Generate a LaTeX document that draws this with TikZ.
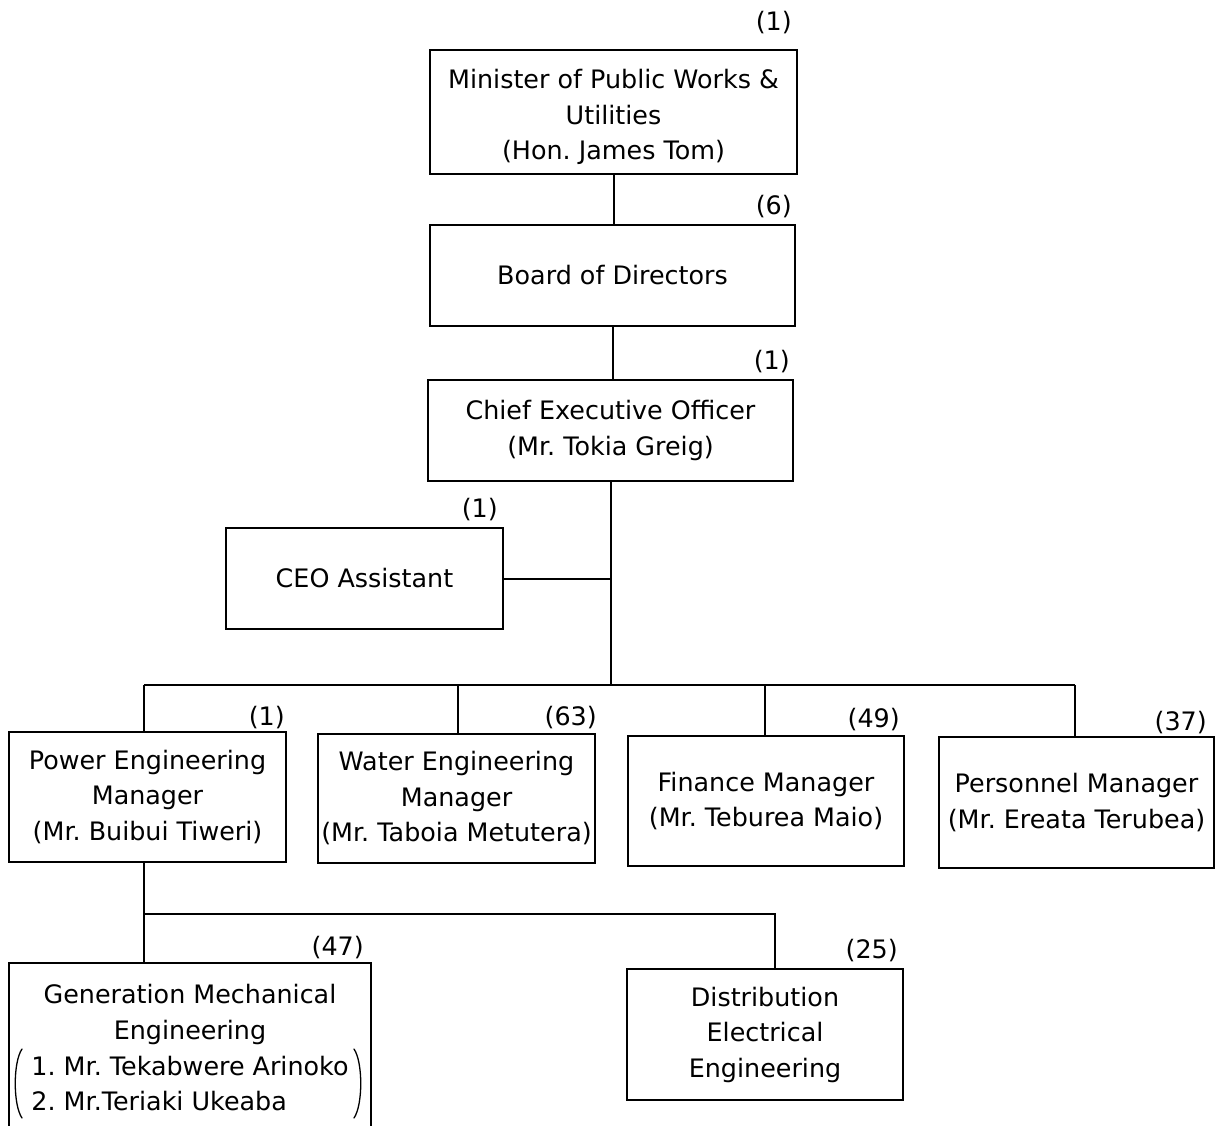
\documentclass[tikz,border=0pt]{standalone}
\usepackage{fontspec}
\setmainfont{DejaVu Sans}
\usepackage{tikz}
\usetikzlibrary{positioning}

\newcommand{\orgfont}{\fontsize{25.4}{35.5}\selectfont\frenchspacing}

\begin{document}
\begin{tikzpicture}[
  x=1pt, y=-1pt,
  box/.style={
    draw,
    line width=2pt,
    rectangle,
    inner sep=0pt,
    outer sep=0pt,
    align=center,
    font=\orgfont
  },
  cnt/.style={
    font=\orgfont,
    inner sep=0pt,
    anchor=base east
  },
  link/.style={
    line width=2pt
  },
  paren/.style={
    line width=1.3pt,
    line cap=round
  }
]
\useasboundingbox (0,0) rectangle (1217,1126);

\node [box, minimum width=367pt, minimum height=124pt] (min) at (613.5,112)
  {\rule{0pt}{30pt}Minister of Public Works \&\\ Utilities\\ (Hon. James Tom)};
\node [box, minimum width=365pt, minimum height=101pt] (board) at (612.5,275.5)
  {Board of Directors};
\node [box, minimum width=365pt, minimum height=101pt] (ceo) at (610.5,430.5)
  {Chief Executive Officer\\ (Mr. Tokia Greig)};
\node [box, minimum width=277pt, minimum height=101pt] (asst) at (364.5,578.5)
  {CEO Assistant};

\node [box, minimum width=277pt, minimum height=130pt] (power) at (147.5,797)
  {Power Engineering\\ Manager\\ (Mr. Buibui Tiweri)};
\node [box, minimum width=277pt, minimum height=129pt] (water) at (456.5,798.5)
  {Water Engineering\\ Manager\\ (Mr. Taboia Metutera)};
\node [box, minimum width=276pt, minimum height=130pt] (fin) at (766,801)
  {Finance Manager\\ (Mr. Teburea Maio)};
\node [box, minimum width=275pt, minimum height=131pt] (pers) at (1076.5,802.5)
  {Personnel Manager\\ (Mr. Ereata Terubea)};

\node [box, minimum width=362pt, minimum height=180pt, anchor=north] (gen) at (190,963)
  {Generation Mechanical\\ Engineering\\[5pt]
   \begin{tabular}{@{}l@{}}1. Mr. Tekabwere Arinoko\\ 2. Mr.Teriaki Ukeaba\end{tabular}};
\node [box, minimum width=276pt, minimum height=131pt] (dist) at (765,1034.5)
  {Distribution\\ Electrical\\ Engineering};

% brackets round the two names
\draw [paren] (22,1049) .. controls (13,1062) and (13,1105) .. (22,1118);
\draw [paren] (354,1049) .. controls (363,1062) and (363,1105) .. (354,1118);

% staff numbers
\node [cnt] (min-n) at (792,31) {(1)};
\node [cnt] (board-n) at (792,214) {(6)};
\node [cnt] (ceo-n) at (790,369) {(1)};
\node [cnt] (asst-n) at (498,517) {(1)};
\node [cnt] (power-n) at (285,725) {(1)};
\node [cnt] (water-n) at (597,725) {(63)};
\node [cnt] (fin-n) at (900,727) {(49)};
\node [cnt] (pers-n) at (1207,730) {(37)};
\node [cnt] (gen-n) at (364,955) {(47)};
\node [cnt] (dist-n) at (898,958) {(25)};

\coordinate (t1) at (144,685);
\coordinate (t2) at (458,685);
\coordinate (t3) at (765,685);
\coordinate (t4) at (1075,685);
\coordinate (s1) at (144,914);
\coordinate (s2) at (775,914);

\draw [link] (min.south) -- (min.south |- board.north);
\draw [link] (board.south) -- (board.south |- ceo.north);
\draw [link] (ceo.south) -- (ceo.south |- t1);
\draw [link] (asst.east) -- (asst.east -| ceo.south);

\draw [link] (t1) -- (t4);
\draw [link] (t1) -- (t1 |- power.north);
\draw [link] (t2) -- (t2 |- water.north);
\draw [link] (t3) -- (t3 |- fin.north);
\draw [link] (t4) -- (t4 |- pers.north);

\draw [link] (s1 |- power.south) -- (s1) -- (s2) -- (s2 |- dist.north);
\draw [link] (s1) -- (s1 |- gen.north);

\end{tikzpicture}
\end{document}
